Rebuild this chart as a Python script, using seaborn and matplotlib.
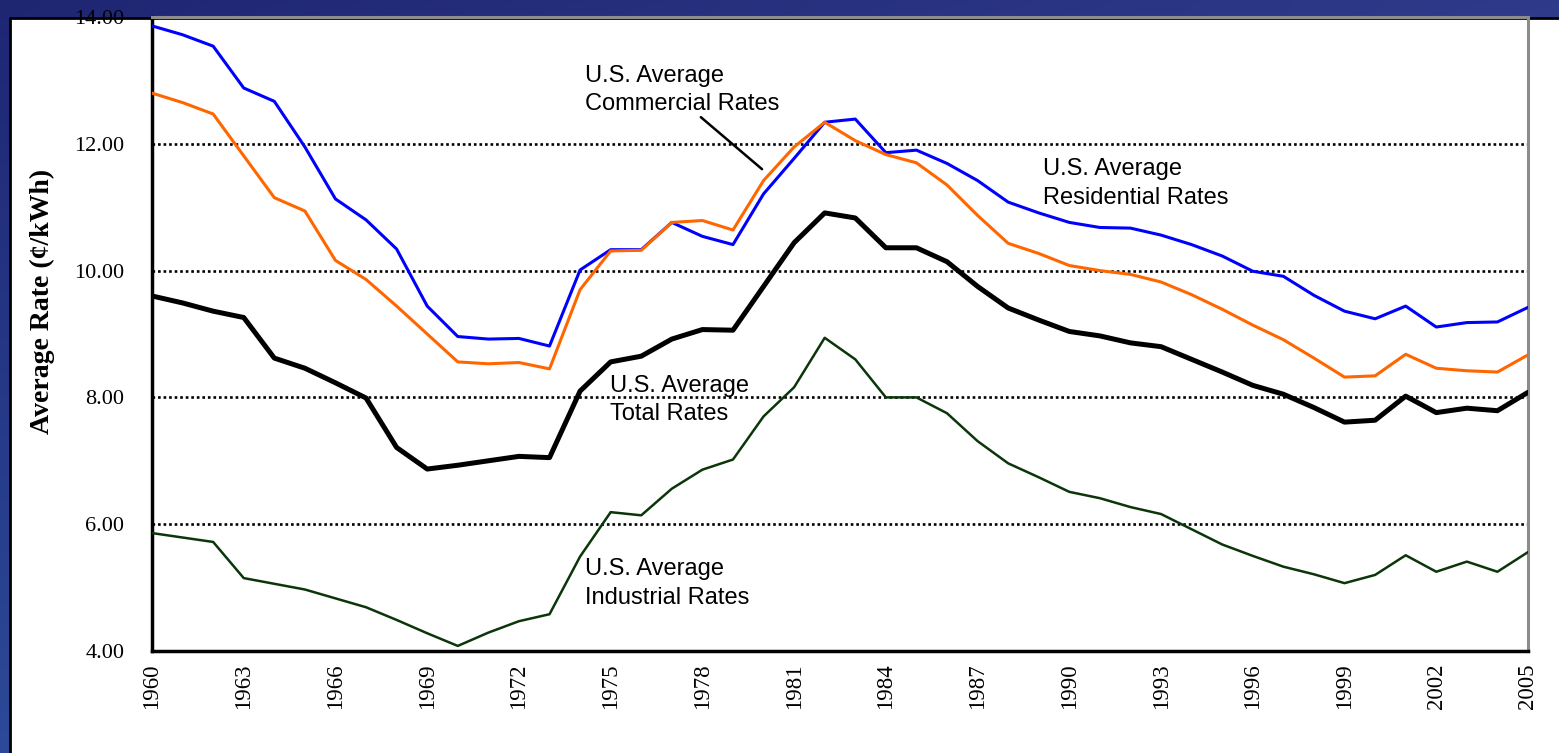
import numpy as np
import pandas as pd
import seaborn as sns
import matplotlib.pyplot as plt
from matplotlib.patches import Rectangle

years = list(range(1960, 2006))

residential = [13.86, 13.72, 13.54, 12.88, 12.67, 11.95, 11.13, 10.80, 10.34, 9.44,
               8.96, 8.92, 8.93, 8.81, 10.01, 10.33, 10.33, 10.76, 10.54, 10.41,
               11.21, 11.77, 12.34, 12.39, 11.86, 11.90, 11.69, 11.42, 11.08, 10.91,
               10.76, 10.68, 10.67, 10.56, 10.41, 10.23, 9.99, 9.91, 9.61, 9.36,
               9.24, 9.44, 9.11, 9.18, 9.19, 9.42]
commercial = [12.80, 12.65, 12.47, 11.81, 11.15, 10.94, 10.16, 9.86, 9.44, 9.00,
              8.56, 8.53, 8.55, 8.45, 9.70, 10.31, 10.32, 10.76, 10.79, 10.64,
              11.42, 11.95, 12.34, 12.05, 11.83, 11.70, 11.35, 10.87, 10.43, 10.27,
              10.08, 10.00, 9.94, 9.82, 9.62, 9.39, 9.14, 8.91, 8.62, 8.32,
              8.34, 8.68, 8.46, 8.42, 8.40, 8.67]
total = [9.60, 9.49, 9.36, 9.26, 8.62, 8.46, 8.23, 7.99, 7.21, 6.87,
         6.93, 7.00, 7.07, 7.05, 8.10, 8.56, 8.65, 8.92, 9.07, 9.06,
         9.75, 10.44, 10.91, 10.83, 10.36, 10.36, 10.14, 9.75, 9.41, 9.22,
         9.04, 8.97, 8.86, 8.80, 8.60, 8.40, 8.19, 8.05, 7.84, 7.61,
         7.64, 8.02, 7.76, 7.83, 7.79, 8.08]
industrial = [5.86, 5.79, 5.72, 5.15, 5.06, 4.97, 4.83, 4.69, 4.49, 4.28,
              4.08, 4.29, 4.47, 4.58, 5.49, 6.19, 6.14, 6.56, 6.86, 7.02,
              7.70, 8.16, 8.94, 8.60, 8.00, 8.00, 7.75, 7.31, 6.96, 6.74,
              6.51, 6.41, 6.27, 6.16, 5.92, 5.68, 5.50, 5.33, 5.21, 5.07,
              5.20, 5.51, 5.25, 5.41, 5.25, 5.56]

yticks = [4, 6, 8, 10, 12, 14]
grid_levels = [6, 8, 10, 12]
xtick_labels = list(range(1960, 2006, 3))

sns.set_style("white")
plt.rcParams['font.family'] = ['Liberation Serif', 'DejaVu Serif']
plt.rcParams.update({'text.color': 'black', 'axes.labelcolor': 'black',
                     'xtick.color': 'black', 'ytick.color': 'black'})

W, H = 1559, 753
fig = plt.figure(figsize=(W / 100, H / 100), dpi=100)

# slide background: blue bands on top and left
bg = fig.add_axes([0, 0, 1, 1], zorder=-5)
gx = np.linspace(0, 1, 200)[None, :]
gy = np.linspace(0, 1, 200)[:, None]
dark = np.array([0.12, 0.15, 0.45])
light_r = np.array([0.19, 0.24, 0.55])
light_b = np.array([0.17, 0.29, 0.60])
t_r = gx * np.ones_like(gy)
t_b = gy * np.ones_like(gx)
img = dark + (light_r - dark) * t_r[..., None] * 0.9 + (light_b - dark) * t_b[..., None]
bg.imshow(np.clip(img, 0, 1), extent=[0, W, H, 0], aspect='auto')
bg.add_patch(Rectangle((10, 18), W - 10, H - 18, facecolor='white', edgecolor='none'))
bg.plot([10, W], [18, 18], color='black', lw=2)
bg.plot([10, 10], [18, H], color='black', lw=2)
bg.set_xlim(0, W)
bg.set_ylim(H, 0)
bg.axis('off')

ax = fig.add_axes([152 / W, 1 - 651 / H, (1528 - 152) / W, (651 - 17) / H])
ax.patch.set_alpha(0)

for lvl in grid_levels:
    ax.axhline(lvl, color='black', lw=1.9, linestyle=(0, (1, 1.1)), zorder=1)

sns.lineplot(x=years, y=residential, color='#0000FF', lw=2.2, ax=ax, zorder=3)
sns.lineplot(x=years, y=commercial, color='#FF6600', lw=2.2, ax=ax, zorder=3)
sns.lineplot(x=years, y=total, color='black', lw=3.6, ax=ax, zorder=4)
sns.lineplot(x=years, y=industrial, color='#0A360A', lw=1.8, ax=ax, zorder=3)

ax.set_xlim(1960, 2005)
ax.set_ylim(4, 14)
ax.set_yticks(yticks)
ax.set_yticklabels([f"{v:.2f}" for v in yticks], fontsize=16)
ax.set_xticks(years, minor=True)
ax.set_xticks(xtick_labels)
ax.set_xticklabels([str(y) for y in xtick_labels], rotation=90, fontsize=16.5)
ax.tick_params(axis='both', which='both', direction='out', length=8, width=2, color='black')
ax.tick_params(axis='y', pad=12)
ax.tick_params(axis='x', pad=1)

for side in ['left', 'bottom']:
    ax.spines[side].set_color('black')
    ax.spines[side].set_linewidth(2.5)
for side in ['top', 'right']:
    ax.spines[side].set_color('#8C8C8C')
    ax.spines[side].set_linewidth(2.2)

fig.text(42 / W, 1 - 301 / H, "Average Rate (¢/kWh)", fontsize=20, fontweight='bold',
         rotation=90, ha='center', va='center')

lab = dict(fontsize=17, family=['Liberation Sans', 'DejaVu Sans'], ha='left', va='center',
           linespacing=1.4, zorder=6, color='black')
ax.text(1974.16, 12.85, "U.S. Average\nCommercial Rates", **lab)
ax.text(1989.14, 11.37, "U.S. Average\nResidential Rates", **lab)
ax.text(1974.98, 7.96, "U.S. Average\nTotal Rates", **lab)
ax.text(1974.16, 5.07, "U.S. Average\nIndustrial Rates", **lab)
ax.plot([1977.95, 1979.95], [12.42, 11.60], color='black', lw=1.8, zorder=6)

fig.savefig("out.png", dpi=100)
